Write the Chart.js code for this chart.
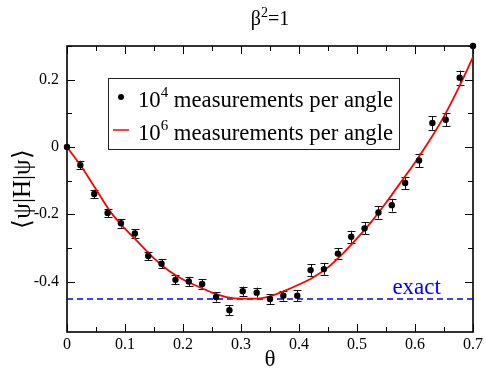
<!DOCTYPE html>
<html>
<head>
<meta charset="utf-8">
<title>beta^2 = 1</title>
<script src="https://cdn.jsdelivr.net/npm/chart.js@4.4.0/dist/chart.umd.min.js"></script>
<style>
  body { margin: 0; background: #fff; }
</style>
</head>
<body>
<canvas id="chart" width="486" height="369"></canvas>
<script>
// 10^4 measurements per angle (points with error bars)
const angles = [0, 0.023, 0.047, 0.07, 0.093, 0.117, 0.14, 0.163, 0.187, 0.21, 0.233,
  0.257, 0.28, 0.303, 0.327, 0.35, 0.373, 0.397, 0.42, 0.443, 0.467,
  0.49, 0.513, 0.537, 0.56, 0.583, 0.607, 0.63, 0.653, 0.677, 0.7];
const energies = [0, -0.054, -0.140, -0.196, -0.227, -0.257, -0.324, -0.347, -0.395, -0.400, -0.407,
  -0.446, -0.485, -0.429, -0.433, -0.452, -0.442, -0.442, -0.366, -0.363, -0.317,
  -0.267, -0.242, -0.195, -0.173, -0.107, -0.040, 0.071, 0.081, 0.206, 0.3];
const errors = [0, 0.013, 0.013, 0.013, 0.013, 0.013, 0.013, 0.014, 0.013, 0.014, 0.014,
  0.014, 0.015, 0.014, 0.015, 0.015, 0.015, 0.016, 0.017, 0.017, 0.017,
  0.018, 0.018, 0.018, 0.019, 0.019, 0.02, 0.02, 0.02, 0.021, 0];

// 10^6 measurements per angle (red curve)
const fineAngles = [0, 0.025, 0.05, 0.075, 0.1, 0.125, 0.15, 0.175, 0.2, 0.225, 0.25,
  0.275, 0.3, 0.325, 0.35, 0.375, 0.4, 0.425, 0.45, 0.475, 0.5,
  0.525, 0.55, 0.575, 0.6, 0.625, 0.65, 0.675, 0.7];
const fineEnergies = [0, -0.059, -0.126, -0.193, -0.243, -0.287, -0.331, -0.367, -0.394, -0.414, -0.433,
  -0.446, -0.451, -0.451, -0.444, -0.428, -0.409, -0.387, -0.358, -0.318, -0.272,
  -0.222, -0.166, -0.106, -0.046, 0.019, 0.091, 0.175, 0.267];

const exactValue = -0.452;
const xTicks = [0, 0.7, 0.05];   // min, max, step
const yTicks = [-0.55, 0.3, 0.1];

const serif = '"Liberation Serif", "Times New Roman", serif';

function isMult(v, step) {
  return Math.abs(v / step - Math.round(v / step)) < 1e-6;
}
function fmt(v) {
  return String(Math.round(v * 10) / 10);
}

// draws text where "^x" means superscript x
function drawRich(ctx, text, x, y, size, align) {
  let parts = [];
  for (let i = 0; i < text.length; i++) {
    if (text[i] === '^') {
      parts.push({ t: text[i + 1], sup: true });
      i++;
    } else if (parts.length && !parts[parts.length - 1].sup) {
      parts[parts.length - 1].t += text[i];
    } else {
      parts.push({ t: text[i], sup: false });
    }
  }
  let fontN = size + 'px ' + serif;
  let fontS = Math.round(size * 0.68) + 'px ' + serif;
  let w = 0;
  parts.forEach(p => {
    ctx.font = p.sup ? fontS : fontN;
    p.w = ctx.measureText(p.t).width;
    w += p.w;
  });
  let cx = align === 'center' ? x - w / 2 : x;
  ctx.textAlign = 'left';
  ctx.textBaseline = 'alphabetic';
  parts.forEach(p => {
    ctx.font = p.sup ? fontS : fontN;
    ctx.fillText(p.t, cx, p.sup ? y - size * 0.42 : y);
    cx += p.w;
  });
}

// box around the plot with inward ticks
const framePlugin = {
  id: 'frame',
  beforeDatasetsDraw(chart) {
    const { ctx, chartArea: a, scales: { x, y } } = chart;
    ctx.save();
    ctx.strokeStyle = '#000';
    ctx.lineWidth = 1;
    x.ticks.forEach(t => {
      if (!isMult(t.value, 0.05)) return;
      let px = Math.round(x.getPixelForValue(t.value)) + 0.5;
      let len = isMult(t.value, 0.1) ? 8 : 5;
      ctx.beginPath();
      ctx.moveTo(px, a.bottom); ctx.lineTo(px, a.bottom - len);
      ctx.moveTo(px, a.top); ctx.lineTo(px, a.top + len);
      ctx.stroke();
    });
    y.ticks.forEach(t => {
      if (!isMult(t.value, 0.1)) return;
      let py = Math.round(y.getPixelForValue(t.value)) + 0.5;
      let len = isMult(t.value, 0.2) ? 8 : 5;
      ctx.beginPath();
      ctx.moveTo(a.left, py); ctx.lineTo(a.left + len, py);
      ctx.moveTo(a.right, py); ctx.lineTo(a.right - len, py);
      ctx.stroke();
    });
    ctx.lineWidth = 1.6;
    ctx.strokeRect(a.left, a.top, a.right - a.left, a.bottom - a.top);

    // error bars of the 10^4 points
    const meta = chart.getDatasetMeta(0);
    ctx.lineWidth = 1;
    ctx.strokeStyle = '#111';
    meta.data.forEach((pt, i) => {
      if (!errors[i]) return;
      let top = y.getPixelForValue(energies[i] + errors[i]);
      let bot = y.getPixelForValue(energies[i] - errors[i]);
      let px = Math.round(pt.x) + 0.5;
      ctx.beginPath();
      ctx.moveTo(px, top); ctx.lineTo(px, bot);
      ctx.moveTo(px - 4, Math.round(top) + 0.5); ctx.lineTo(px + 4, Math.round(top) + 0.5);
      ctx.moveTo(px - 4, Math.round(bot) + 0.5); ctx.lineTo(px + 4, Math.round(bot) + 0.5);
      ctx.stroke();
    });
    ctx.restore();
  },
  afterDraw(chart) {
    const { ctx, chartArea: a, scales: { x, y } } = chart;
    const ds = chart.data.datasets;
    ctx.save();
    ctx.fillStyle = '#000';
    // title
    drawRich(ctx, 'β^2=1', (a.left + a.right) / 2, 25, 20, 'center');
    // x title
    ctx.font = '23px ' + serif;
    ctx.textAlign = 'center';
    ctx.textBaseline = 'alphabetic';
    ctx.fillText('θ', (a.left + a.right) / 2, 366);
    // y title
    ctx.save();
    ctx.translate(30, (a.top + a.bottom) / 2);
    ctx.rotate(-Math.PI / 2);
    ctx.font = '25px ' + serif;
    ctx.fillText('⟨ψ|H|ψ⟩', 0, 0);
    ctx.restore();

    // "exact" label
    ctx.fillStyle = '#0000ff';
    ctx.font = '23px ' + serif;
    ctx.textAlign = 'left';
    ctx.fillText('exact', x.getPixelForValue(0.561), y.getPixelForValue(exactValue) - 5);

    // legend
    let lx = a.left + 41, ly = a.top + 32, lw = 291, lh = 71;
    ctx.fillStyle = '#fff';
    ctx.fillRect(lx, ly, lw, lh);
    ctx.strokeStyle = '#222';
    ctx.lineWidth = 1;
    ctx.strokeRect(lx + 0.5, ly + 0.5, lw, lh);
    ctx.fillStyle = '#000';
    ctx.beginPath();
    ctx.arc(lx + 13, ly + 19, 3, 0, Math.PI * 2);
    ctx.fill();
    drawRich(ctx, ds[0].label, lx + 30, ly + 29, 22.7);
    ctx.strokeStyle = '#ff0000';
    ctx.lineWidth = 1.5;
    ctx.beginPath();
    ctx.moveTo(lx + 5, ly + 52); ctx.lineTo(lx + 21, ly + 52);
    ctx.stroke();
    drawRich(ctx, ds[1].label, lx + 30, ly + 62, 22.7);
    ctx.restore();
  }
};

new Chart(document.getElementById('chart'), {
  type: 'scatter',
  data: {
    datasets: [
      {
        label: '10^4 measurements per angle',
        data: angles.map((a, i) => ({ x: a, y: energies[i] })),
        backgroundColor: '#000',
        borderColor: '#000',
        pointRadius: 3.2,
        pointBorderWidth: 0,
        showLine: false,
        clip: false
      },
      {
        label: '10^6 measurements per angle',
        data: fineAngles.map((a, i) => ({ x: a, y: fineEnergies[i] })),
        borderColor: '#ff0000',
        borderWidth: 1.8,
        pointRadius: 0,
        showLine: true,
        cubicInterpolationMode: 'monotone'
      },
      {
        label: 'exact',
        data: [{ x: xTicks[0], y: exactValue }, { x: xTicks[1], y: exactValue }],
        borderColor: '#0000ff',
        borderWidth: 1.4,
        borderDash: [6, 4],
        pointRadius: 0,
        showLine: true
      }
    ]
  },
  options: {
    responsive: false,
    animation: false,
    layout: { padding: { top: 46, right: 10, left: 0, bottom: 0 } },
    plugins: {
      legend: { display: false },
      tooltip: { enabled: false },
      title: { display: false }
    },
    scales: {
      x: {
        type: 'linear',
        min: xTicks[0],
        max: xTicks[1],
        grid: { display: false, drawTicks: false },
        border: { display: false },
        ticks: {
          stepSize: xTicks[2],
          autoSkip: false,
          maxRotation: 0,
          padding: 3,
          color: '#000',
          font: { family: serif, size: 16 },
          callback: v => isMult(v, 0.1) ? fmt(v) : ''
        },
        afterFit: s => { s.height = 37; }
      },
      y: {
        type: 'linear',
        min: yTicks[0],
        max: yTicks[1],
        grid: { display: false, drawTicks: false },
        border: { display: false },
        ticks: {
          stepSize: yTicks[2],
          autoSkip: false,
          padding: 8,
          color: '#000',
          font: { family: serif, size: 16 },
          callback: v => isMult(v, 0.2) ? fmt(v) : ''
        },
        afterFit: s => { s.width = 67; }
      }
    }
  },
  plugins: [framePlugin]
});
</script>
</body>
</html>
